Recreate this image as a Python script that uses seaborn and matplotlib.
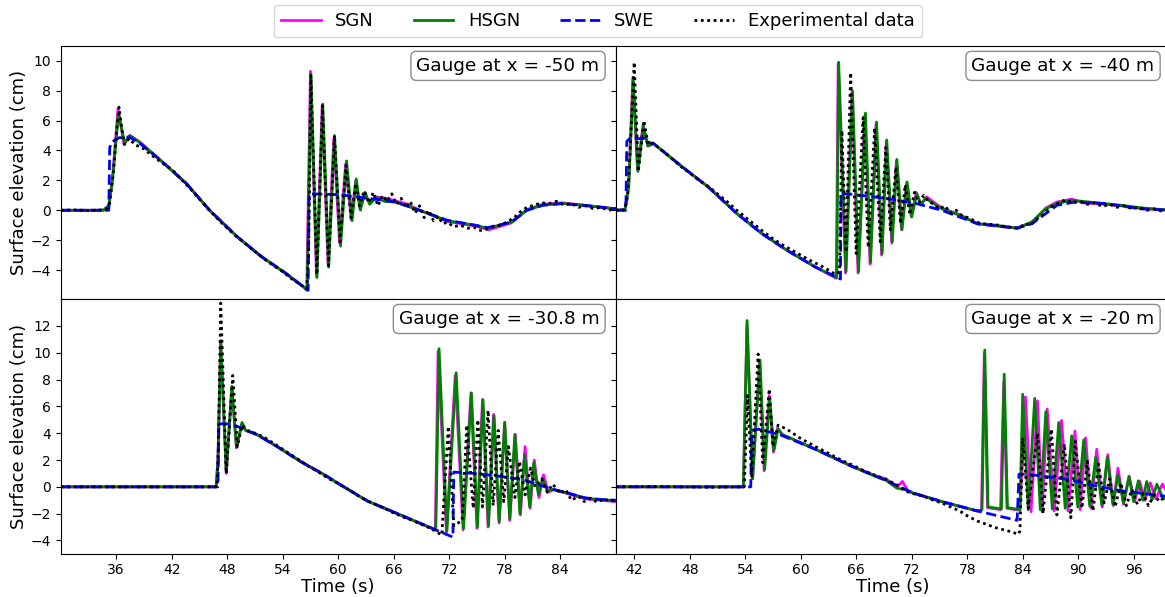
import matplotlib
matplotlib.use("Agg")
import matplotlib.pyplot as plt
import numpy as np
import pandas as pd
import seaborn as sns

# ---------------- data ----------------
MODELS = ["SGN", "HSGN", "SWE", "Experimental data"]
GAUGES = ["Gauge at x = -50 m", "Gauge at x = -40 m",
          "Gauge at x = -30.8 m", "Gauge at x = -20 m"]

# Panel 1: gauge x = -50 m
T1_SWE = [30, 35.2, 35.3, 35.6, 36.3, 37.4, 38.5, 40.6, 43.6, 46.1,
          49.1, 51.7, 54.3, 56.2, 56.75, 56.85, 59.8, 62.0, 64.5, 66.2,
          68.8, 71.8, 74.8, 76.1, 78.7, 80.4, 82.1, 84.2, 86.4, 88.5,
          90]
V1_SWE = [0, 0, 4.2, 4.6, 4.85, 4.9, 4.5, 3.45, 1.78, 0.0,
          -1.78, -3.1, -4.2, -5.1, -5.35, 1.1, 1.05, 0.9, 0.7, 0.55,
          0.0, -0.67, -1.0, -1.16, -0.8, 0.0, 0.33, 0.45, 0.33, 0.2,
          0.1]
T1_HSGN = [30, 34.6, 35.2, 35.6, 36.25, 36.9, 37.5, 38.5, 40.6, 43.6,
           46.1, 49.1, 51.7, 54.3, 56.2, 56.65, 57.05, 57.7, 58.33, 58.97,
           59.6, 60.25, 60.9, 61.5, 61.95, 62.4, 62.9, 63.4, 64.1, 65.0,
           66.2, 68.8, 71.8, 74.8, 76.1, 78.7, 80.4, 82.1, 84.2, 86.4,
           88.5, 90]
V1_HSGN = [0, 0, 0.3, 2.0, 6.5, 4.5, 5.0, 4.55, 3.45, 1.78,
           0.0, -1.78, -3.1, -4.2, -5.1, -5.3, 9.1, -4.5, 7.1, -3.8,
           5.0, -2.4, 3.3, -0.7, 2.1, 0.0, 1.2, 0.4, 0.85, 0.6,
           0.55, 0.0, -0.7, -1.0, -1.2, -0.8, 0.0, 0.35, 0.45, 0.35,
           0.2, 0.1]
T1_SGN = [30, 34.6, 35.2, 35.6, 36.2, 36.85, 37.45, 38.5, 40.6, 43.6,
          46.1, 49.1, 51.7, 54.3, 56.2, 56.6, 57.0, 57.65, 58.27, 58.9,
          59.52, 60.15, 60.8, 61.4, 61.9, 62.35, 62.85, 63.4, 64.1, 65.5,
          67.5, 68.8, 71.8, 74.8, 76.3, 78.7, 80.4, 82.1, 84.2, 86.4,
          88.5, 90]
V1_SGN = [0, 0, 0.3, 2.2, 6.8, 4.4, 5.0, 4.6, 3.45, 1.78,
          0.0, -1.78, -3.1, -4.2, -5.1, -5.35, 9.3, -4.4, 7.0, -3.6,
          4.8, -2.2, 3.1, -0.6, 2.0, 0.1, 1.1, 0.5, 0.9, 0.75,
          0.4, 0.0, -0.75, -1.05, -1.3, -0.85, 0.05, 0.4, 0.5, 0.35,
          0.2, 0.1]
T1_EXP = [30, 31.5, 33, 34.5, 35.0, 35.3, 35.7, 36.0, 36.3, 36.6,
          36.9, 37.4, 38, 39, 40, 41, 42, 43, 44, 45,
          46, 47, 48, 49, 50, 51, 52, 53, 54, 55,
          56, 56.6, 56.8, 57.05, 57.7, 58.3, 58.95, 59.6, 60.2, 60.85,
          61.4, 61.9, 62.3, 62.8, 63.3, 63.8, 64.3, 64.8, 65.3, 65.8,
          66.3, 66.8, 67.3, 67.8, 68.3, 68.8, 69.3, 69.8, 70.3, 70.8,
          71.3, 71.8, 72.5, 73.2, 74.0, 74.7, 75.4, 76.1, 76.8, 77.5,
          78.2, 79.0, 79.7, 80.4, 81.2, 82.0, 82.8, 83.6, 84.4, 85.2,
          86.0, 86.8, 87.6, 88.4, 89.2, 90]
V1_EXP = [0, 0.02, -0.02, 0.03, 0.1, 0.5, 2.5, 5.0, 6.9, 5.5,
          4.4, 4.8, 4.4, 4.1, 3.6, 3.15, 2.75, 2.1, 1.45, 0.75,
          0.05, -0.6, -1.2, -1.75, -2.25, -2.75, -3.25, -3.7, -4.1, -4.6,
          -5.0, -5.25, -3.0, 9.0, -4.3, 7.0, -3.7, 5.0, -2.1, 3.0,
          -0.5, 1.8, 0.3, 1.3, 0.5, 1.2, 0.3, 1.0, 0.6, 1.1,
          0.4, 0.8, 0.2, 0.6, -0.2, 0.3, -0.5, 0.0, -0.7, -0.4,
          -0.9, -0.8, -1.1, -1.0, -1.2, -1.15, -1.35, -1.25, -1.1, -1.0,
          -0.8, -0.5, -0.1, 0.2, 0.35, 0.5, 0.45, 0.6, 0.35, 0.45,
          0.2, 0.3, 0.1, 0.2, 0.0, 0.1]

# Panel 2: gauge x = -40 m
T2_SWE = [40, 41.1, 41.2, 41.5, 43.15, 43.7, 44.1, 47.2, 50.0, 53.1,
          55.8, 58.5, 61.6, 64.0, 64.3, 64.35, 65.5, 69.4, 72.5, 75.25,
          79.1, 83.4, 85.0, 87.7, 89.6, 92.8, 96.7, 100]
V2_SWE = [0, 0, 4.6, 4.8, 4.8, 4.5, 4.46, 2.9, 1.56, -0.22,
          -1.56, -2.67, -3.8, -4.5, -4.6, 1.1, 1.07, 0.78, 0.45, 0.0,
          -0.9, -1.2, -0.9, 0.33, 0.55, 0.45, 0.1, 0.0]
T2_HSGN = [40, 41.0, 41.4, 41.9, 42.4, 43.0, 43.5, 44.1, 47.2, 50.0,
           53.1, 55.8, 58.5, 61.6, 63.9, 64.1, 64.9, 65.6, 66.25, 67.0,
           67.55, 68.2, 68.8, 69.3, 69.9, 70.4, 70.95, 71.5, 72.0, 72.55,
           73.0, 73.5, 75.25, 77.2, 79.1, 81.1, 83.4, 85.0, 86.5, 87.7,
           89.3, 92.0, 94.7, 97.0, 100]
V2_HSGN = [0, 0.05, 1.5, 8.7, 2.6, 5.6, 4.3, 4.46, 2.9, 1.56,
           -0.22, -1.56, -2.67, -3.8, -4.5, 9.9, -4.1, 8.0, -4.1, 6.5,
           -3.5, 5.9, -2.9, 4.7, -2.1, 3.4, -1.3, 1.9, -0.45, 1.1,
           0.35, 0.8, 0.1, -0.33, -0.9, -1.0, -1.2, -0.78, 0.1, 0.45,
           0.67, 0.5, 0.33, 0.15, 0.0]
T2_SGN = [40, 41.0, 41.4, 41.85, 42.35, 42.95, 43.45, 44.1, 47.2, 50.0,
          53.1, 55.8, 58.5, 61.6, 63.85, 64.05, 64.85, 65.55, 66.2, 66.95,
          67.5, 68.15, 68.75, 69.25, 69.85, 70.35, 70.9, 71.45, 71.95, 72.5,
          73.0, 73.6, 75.25, 77.2, 79.1, 81.1, 83.4, 85.0, 86.5, 87.7,
          89.3, 90.5, 92.0, 94.7, 97.0, 100]
V2_SGN = [0, 0.05, 1.6, 8.9, 2.7, 5.7, 4.3, 4.46, 2.9, 1.56,
          -0.22, -1.56, -2.67, -3.8, -4.55, 9.8, -4.2, 7.9, -4.2, 6.4,
          -3.6, 5.8, -3.0, 4.6, -2.2, 3.3, -1.3, 1.8, -0.4, 1.2,
          0.4, 0.9, 0.15, -0.3, -0.9, -1.05, -1.2, -0.8, 0.15, 0.55,
          0.75, 0.5, 0.45, 0.3, 0.1, 0.0]
T2_EXP = [40, 40.5, 41.0, 41.3, 41.6, 42.0, 42.45, 43.05, 43.5, 44.0,
          45, 46, 47, 48, 49, 50, 51, 52, 53, 54,
          55, 56, 57, 58, 59, 60, 61, 62, 63, 63.8,
          64.2, 64.45, 64.9, 65.4, 66.0, 66.75, 67.3, 68.0, 68.6, 69.2,
          69.7, 70.3, 70.8, 71.3, 71.8, 72.3, 72.8, 73.3, 73.8, 74.4,
          75.0, 75.6, 76.2, 76.8, 77.5, 78.2, 79.0, 79.8, 80.6, 81.4,
          82.2, 83.0, 83.6, 84.2, 84.8, 85.5, 86.2, 87.0, 87.8, 88.6,
          89.4, 90.2, 91.0, 91.8, 92.6, 93.4, 94.2, 95.0, 95.8, 96.6,
          97.4, 98.2, 99.0, 100]
V2_EXP = [0.05, -0.05, 0.05, 1.0, 4.5, 9.9, 2.6, 6.0, 4.4, 4.5,
          4.0, 3.5, 2.95, 2.5, 2.0, 1.6, 1.1, 0.6, 0.05, -0.45,
          -0.95, -1.45, -1.9, -2.3, -2.65, -3.0, -3.35, -3.65, -4.0, -4.3,
          -4.1, 5.35, -2.8, 9.2, -2.9, 6.2, -2.5, 5.5, -2.1, 4.2,
          -1.3, 2.9, -0.9, 1.7, -0.3, 1.2, 0.5, 1.0, 0.6, 0.4,
          0.1, 0.3, -0.2, 0.0, -0.4, -0.5, -0.8, -0.9, -0.95, -1.0,
          -1.1, -1.15, -1.2, -0.9, -1.0, -0.6, -0.3, 0.2, 0.45, 0.7,
          0.5, 0.6, 0.4, 0.5, 0.25, 0.4, 0.2, 0.3, 0.1, 0.2,
          0.0, 0.1, -0.05, 0.05]

# Panel 3: gauge x = -30.8 m
T3_SWE = [30, 47.0, 47.1, 48.0, 49.1, 51.2, 53.4, 55.9, 58.5, 60.2,
          63.2, 66.2, 68.8, 70.5, 72.4, 72.5, 74.7, 77.3, 79.9, 81.6,
          83.3, 85.0, 86.7, 88.4, 90]
V3_SWE = [0, 0, 4.7, 4.7, 4.5, 3.9, 3.0, 1.9, 0.9, 0.17,
          -1.07, -1.94, -2.7, -3.2, -3.75, 1.1, 1.0, 0.8, 0.55, 0.17,
          -0.2, -0.5, -0.82, -0.95, -1.0]
T3_HSGN = [30, 46.8, 47.0, 47.3, 47.9, 48.5, 49.0, 49.6, 50.0, 51.2,
           53.4, 55.9, 58.5, 60.2, 63.2, 66.2, 68.8, 70.55, 70.9, 71.75,
           72.75, 73.55, 74.4, 75.05, 75.65, 76.25, 76.85, 77.4, 78.0, 78.55,
           79.1, 79.65, 80.15, 80.7, 81.15, 81.65, 82.1, 82.6, 83.3, 85.0,
           86.7, 88.4, 90]
V3_HSGN = [0, 0, 2.0, 10.9, 1.05, 7.5, 2.96, 4.8, 4.2, 3.9,
           3.0, 1.9, 0.9, 0.17, -1.07, -1.94, -2.7, -3.2, 10.3, -3.3,
           8.5, -3.1, 7.0, -3.0, 6.5, -2.9, 5.3, -2.6, 4.8, -2.4,
           3.9, -2.0, 2.4, -1.5, 1.8, -0.6, 0.6, -0.3, -0.2, -0.5,
           -0.85, -0.95, -1.05]
T3_SGN = [30, 46.8, 47.0, 47.3, 47.9, 48.5, 49.0, 49.6, 50.0, 51.2,
          53.4, 55.9, 58.5, 60.2, 63.2, 66.2, 68.8, 70.5, 70.8, 71.7,
          72.65, 73.5, 74.35, 75.0, 75.6, 76.2, 76.8, 77.4, 78.0, 78.55,
          79.15, 79.7, 80.2, 80.75, 81.2, 81.7, 82.2, 82.7, 83.3, 85.0,
          86.7, 88.4, 90]
V3_SGN = [0, 0, 2.0, 10.8, 1.0, 7.4, 2.9, 4.7, 4.2, 3.9,
          3.0, 1.9, 0.9, 0.17, -1.07, -1.94, -2.7, -3.2, 10.1, -3.4,
          8.3, -3.2, 7.0, -3.1, 6.5, -3.0, 5.4, -2.7, 4.8, -2.5,
          3.9, -2.1, 3.0, -1.6, 2.0, -0.8, 0.9, -0.4, -0.2, -0.55,
          -0.9, -1.0, -1.1]
T3_EXP = [30, 35, 40, 45, 46.9, 47.05, 47.3, 47.9, 48.6, 49.1,
          49.6, 50.2, 51, 52, 53, 54, 55, 56, 57, 58,
          59, 60, 61, 62, 63, 64, 65, 66, 67, 68,
          69, 70, 70.5, 71.2, 71.9, 72.5, 73.4, 73.9, 74.6, 75.1,
          75.6, 76.2, 76.75, 77.3, 77.9, 78.4, 79.1, 79.6, 80.2, 80.8,
          81.3, 82.0, 82.6, 83.2, 84.0, 84.6, 85.2, 86.0, 86.6, 87.3,
          88.0, 88.7, 89.4, 90]
V3_EXP = [0, 0, 0, 0, 0, 3.0, 13.7, 1.0, 8.3, 3.0,
          4.6, 4.2, 4.0, 3.7, 3.25, 2.8, 2.35, 1.9, 1.45, 1.05,
          0.6, 0.25, -0.15, -0.6, -1.0, -1.3, -1.6, -1.95, -2.25, -2.5,
          -2.8, -3.1, -3.3, -3.6, 4.5, -2.9, -2.5, 4.6, -1.6, 5.0,
          -1.5, 5.7, -1.4, 4.2, -1.1, 3.0, -0.8, 1.9, -0.6, 1.4,
          0.0, 0.6, -0.4, 0.2, -0.5, -0.2, -1.0, -0.7, -1.1, -0.85,
          -1.15, -0.9, -1.05, -1.0]

# Panel 4: gauge x = -20 m
T4_SWE = [40, 54.6, 54.7, 55.4, 57.7, 61.6, 65.5, 69.4, 72.1, 75.25,
          79.1, 83.4, 83.6, 85.0, 88.9, 92.0, 94.7, 100]
V4_SWE = [0, 0, 4.2, 4.3, 3.9, 2.8, 1.54, 0.42, -0.45, -1.1,
          -1.8, -2.5, 0.95, 0.9, 0.55, 0.05, -0.3, -0.75]
T4_HSGN = [40, 53.8, 54.2, 54.8, 55.6, 56.1, 56.65, 57.1, 57.55, 58.0,
           61.6, 65.5, 68.0, 69.2, 70.4, 71.3, 72.1, 75.25, 79.1, 79.6,
           79.9, 80.25, 81.7, 82.0, 82.35, 83.7, 84.0, 84.6, 85.3, 85.9,
           86.5, 87.2, 87.9, 88.6, 89.3, 89.95, 90.6, 91.25, 91.9, 92.55,
           93.15, 93.75, 94.3, 94.9, 95.5, 96.0, 96.5, 97.0, 97.4, 98.0,
           98.5, 99.2, 100]
V4_HSGN = [0, 0, 12.4, 0.6, 9.45, 1.3, 6.6, 2.7, 4.3, 3.9,
           2.8, 1.54, 0.8, 0.5, -0.1, -0.2, -0.45, -1.1, -1.8, -1.7,
           10.2, -1.5, -1.65, 8.4, -1.55, -1.7, 6.9, -1.7, 6.6, -1.7,
           5.6, -1.65, 4.8, -1.6, 3.8, -1.5, 3.5, -1.45, 2.2, -1.35,
           2.2, -1.3, 0.9, -1.2, 0.75, -1.1, 0.45, -1.0, 0.4, -0.95,
           0.2, -0.9, -0.75]
T4_SGN = [40, 53.8, 54.2, 54.8, 55.55, 56.05, 56.6, 57.05, 57.5, 58.0,
          61.6, 65.5, 68.0, 69.2, 70.4, 71.0, 71.6, 72.1, 75.25, 79.1,
          79.55, 79.85, 80.2, 81.6, 81.95, 82.3, 83.7, 84.3, 84.9, 85.6,
          86.1, 86.65, 87.4, 88.2, 88.9, 89.65, 90.2, 90.8, 91.4, 92.0,
          92.6, 93.2, 93.8, 94.3, 94.9, 95.5, 96.1, 96.65, 97.2, 97.8,
          98.4, 99.1, 100]
V4_SGN = [0, 0, 12.0, 0.6, 9.3, 1.2, 6.8, 2.6, 4.4, 3.9,
          2.8, 1.54, 0.85, 0.6, 0.0, 0.4, -0.3, -0.45, -1.1, -1.8,
          -1.75, 10.0, -1.55, -1.7, 7.8, -1.6, -1.75, 6.7, -1.85, 6.4,
          -1.85, 5.8, -1.8, 4.95, -1.8, 4.15, -1.7, 3.65, -1.6, 2.8,
          -1.5, 2.4, -1.4, 1.4, -1.3, 0.8, -1.1, 0.4, -1.0, 0.3,
          -0.9, 0.2, -0.8]
T4_EXP = [40, 45, 50, 53.9, 54.25, 54.7, 55.4, 55.9, 56.6, 57.0,
          57.55, 58.5, 60, 61.6, 63, 64.5, 65.5, 67, 67.9, 69.4,
          70.5, 71.4, 72.4, 73.3, 74.3, 75.25, 76.2, 77.2, 78.1, 79.1,
          80.1, 81.1, 82.2, 83.0, 83.5, 83.7, 84.0, 84.6, 85.6, 86.2,
          87.1, 87.7, 88.5, 89.2, 89.7, 90.4, 91.0, 91.6, 92.2, 92.8,
          93.4, 94.0, 94.6, 95.2, 95.8, 96.4, 97.0, 97.6, 98.2, 98.8,
          99.4, 100]
V4_EXP = [0, 0.02, -0.03, 0, 6.8, 0.8, 9.9, 1.8, 7.3, 3.0,
          4.6, 4.3, 3.6, 3.0, 2.5, 1.95, 1.65, 1.15, 0.9, 0.5,
          0.1, -0.35, -0.55, -0.7, -1.0, -1.2, -1.5, -1.8, -2.2, -2.55,
          -2.8, -3.05, -3.25, -3.4, -3.55, -3.3, 3.66, -1.6, 4.0, -2.0,
          4.3, -2.1, 3.2, -2.3, 3.4, -1.6, 1.9, -1.8, 1.7, -1.2,
          0.6, -1.5, 0.3, -1.4, -0.2, -1.3, -0.5, -1.4, -0.6, -1.1,
          -0.7, -0.9]

LEFT_XTICKS = [36, 42, 48, 54, 60, 66, 72, 78, 84]
RIGHT_XTICKS = [42, 48, 54, 60, 66, 72, 78, 84, 90, 96]
TOP_YTICKS = [-4, -2, 0, 2, 4, 6, 8, 10]
BOTTOM_YTICKS = [-4, -2, 0, 2, 4, 6, 8, 10, 12]

PANELS = [
    [(T1_SGN, V1_SGN), (T1_HSGN, V1_HSGN), (T1_SWE, V1_SWE), (T1_EXP, V1_EXP)],
    [(T2_SGN, V2_SGN), (T2_HSGN, V2_HSGN), (T2_SWE, V2_SWE), (T2_EXP, V2_EXP)],
    [(T3_SGN, V3_SGN), (T3_HSGN, V3_HSGN), (T3_SWE, V3_SWE), (T3_EXP, V3_EXP)],
    [(T4_SGN, V4_SGN), (T4_HSGN, V4_HSGN), (T4_SWE, V4_SWE), (T4_EXP, V4_EXP)],
]

# ---------------- styling ----------------
PALETTE = {"SGN": "#ff00ff", "HSGN": "#008000", "SWE": "#0000ff",
           "Experimental data": "#000000"}
DASHES = {"SGN": "", "HSGN": "", "SWE": (3.7, 1.6),
          "Experimental data": (1, 1.3)}

W, H = 1165, 597
fig = plt.figure(figsize=(W / 100, H / 100), dpi=100)


def box(x0, y0, x1, y1):
    return [x0 / W, 1 - y1 / H, (x1 - x0) / W, (y1 - y0) / H]


axes = [
    fig.add_axes(box(60.7, 45.5, 615.7, 298.5)),
    fig.add_axes(box(615.7, 45.5, 1170.7, 298.5)),
    fig.add_axes(box(60.7, 298.5, 615.7, 553.5)),
    fig.add_axes(box(615.7, 298.5, 1170.7, 553.5)),
]
XLIMS = [(30, 90), (40, 100), (30, 90), (40, 100)]
YLIMS = [(-5.9, 11.02), (-5.9, 11.02), (-4.97, 14.04), (-4.97, 14.04)]

for i, ax in enumerate(axes):
    frames = []
    for name, (t, v) in zip(MODELS, PANELS[i]):
        frames.append(pd.DataFrame({"t": t, "v": v, "model": name}))
    df = pd.concat(frames, ignore_index=True)
    sns.lineplot(data=df, x="t", y="v", hue="model", style="model",
                 hue_order=MODELS, style_order=MODELS, palette=PALETTE,
                 dashes=DASHES, sort=False, estimator=None, lw=2,
                 ax=ax, legend=False)
    ax.set_xlim(*XLIMS[i])
    ax.set_ylim(*YLIMS[i])
    ax.set_xticks(LEFT_XTICKS if i % 2 == 0 else RIGHT_XTICKS)
    ax.set_yticks(TOP_YTICKS if i < 2 else BOTTOM_YTICKS)
    ax.set_xlabel("")
    ax.set_ylabel("")
    ax.tick_params(labelsize=10)
    if i < 2:
        ax.tick_params(labelbottom=False)
    else:
        ax.set_xlabel("Time (s)", fontsize=13, labelpad=0.5)
    if i % 2 == 1:
        ax.tick_params(labelleft=False)
    else:
        ax.set_ylabel("Surface elevation (cm)", fontsize=13, labelpad=2)
    ax.text(0.971, 0.955, GAUGES[i], transform=ax.transAxes, ha="right",
            va="top", fontsize=13.3,
            bbox=dict(boxstyle="round,pad=0.3", fc="white", ec="0.55"))

handles = axes[0].lines[:4]
fig.legend(handles, MODELS, loc="upper center", ncol=4, fontsize=13,
           handlelength=2.2, columnspacing=2.2,
           bbox_to_anchor=(598 / W, 1 + 4 / H), frameon=True)

fig.savefig("out.png", dpi=100)
